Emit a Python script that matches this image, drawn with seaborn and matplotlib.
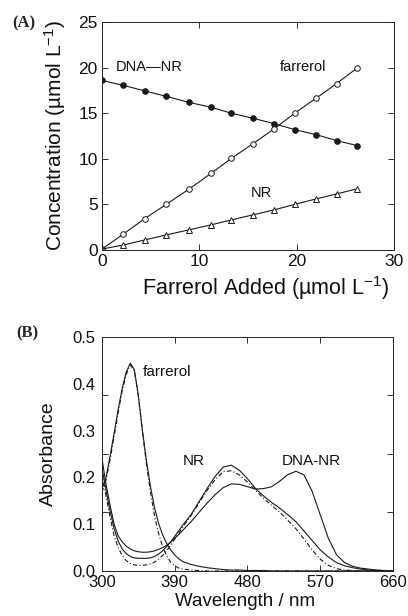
import matplotlib
matplotlib.use("Agg")
import matplotlib.pyplot as plt
import seaborn as sns
import numpy as np

# ---------------- Data: panel A ----------------
farrerol_added = [0, 2.2, 4.4, 6.6, 8.9, 11.2, 13.3, 15.5, 17.7, 19.8, 22.0, 24.1, 26.2]
dna_nr_conc = [18.6, 18.05, 17.45, 16.85, 16.2, 15.65, 15.0, 14.45, 13.85, 13.2, 12.65, 12.0, 11.45]
farrerol_conc = [0.1, 1.75, 3.45, 5.0, 6.65, 8.4, 10.05, 11.65, 13.3, 15.0, 16.65, 18.25, 19.95]
nr_conc = [0.1, 0.55, 1.1, 1.65, 2.2, 2.75, 3.3, 3.85, 4.4, 5.0, 5.6, 6.15, 6.7]

# ---------------- Data: panel B ----------------
wavelength = [300, 305, 310, 315, 320, 325, 330, 335, 340, 345, 350, 355, 360, 365, 370,
              375, 380, 385, 390, 395, 400,
              410, 420, 430, 440, 450, 460, 470, 480, 490, 500, 510, 520, 530, 540, 550,
              560, 570, 580, 590, 600, 610, 620, 630, 640, 650, 660]
farrerol_abs = [0.175, 0.200, 0.245, 0.295, 0.345, 0.390, 0.425, 0.444, 0.430, 0.375, 0.300,
                0.235, 0.180, 0.135, 0.102, 0.077, 0.059, 0.045, 0.034, 0.026, 0.020,
                0.014, 0.010, 0.007, 0.005, 0.003, 0.002, 0.002, 0.001, 0.001, 0.001,
                0, 0, 0, 0, 0, 0, 0, 0, 0, 0, 0, 0, 0, 0, 0, 0]
farrerol_abs2 = [0.168, 0.195, 0.238, 0.288, 0.338, 0.385, 0.420, 0.440, 0.428, 0.372, 0.298,
                 0.228, 0.168, 0.118, 0.080, 0.052, 0.032, 0.019, 0.011, 0.006, 0.004,
                 0.002, 0.001, 0, 0, 0, 0, 0, 0, 0, 0, 0, 0, 0, 0, 0, 0, 0, 0, 0, 0, 0,
                 0, 0, 0, 0, 0]
dna_nr_abs = [0.240, 0.185, 0.140, 0.100, 0.075, 0.062, 0.053, 0.047, 0.043, 0.041, 0.040,
              0.040, 0.041, 0.043, 0.046, 0.050, 0.055, 0.062, 0.070, 0.078, 0.087,
              0.105, 0.125, 0.145, 0.163, 0.178, 0.186, 0.185, 0.180, 0.175, 0.176, 0.180,
              0.192, 0.206, 0.213, 0.205, 0.170, 0.120, 0.070, 0.035, 0.018, 0.010, 0.006,
              0.004, 0.002, 0.001, 0.000]
nr_abs = [0.220, 0.172, 0.128, 0.090, 0.064, 0.047, 0.037, 0.031, 0.028, 0.027, 0.027,
          0.027, 0.028, 0.031, 0.036, 0.043, 0.052, 0.062, 0.074, 0.086, 0.098,
          0.120, 0.148, 0.176, 0.202, 0.222, 0.226, 0.215, 0.197, 0.176, 0.160, 0.146,
          0.134, 0.120, 0.105, 0.085, 0.065, 0.045, 0.030, 0.018, 0.011, 0.007, 0.004,
          0.002, 0.001, 0.000, 0.000]
nr_abs2 = [0.210, 0.160, 0.115, 0.075, 0.050, 0.033, 0.022, 0.016, 0.013, 0.012, 0.012,
           0.013, 0.015, 0.019, 0.025, 0.033, 0.043, 0.055, 0.068, 0.081, 0.094,
           0.118, 0.145, 0.172, 0.195, 0.212, 0.214, 0.205, 0.190, 0.172, 0.155, 0.140,
           0.125, 0.108, 0.090, 0.068, 0.045, 0.025, 0.012, 0.005, 0.002, 0.001, 0,
           0, 0, 0, 0]

xticks_A = [0, 10, 20, 30]
yticks_A = [0, 5, 10, 15, 20, 25]
xticks_B = [300, 390, 480, 570, 660]
yticks_B = [0.0, 0.1, 0.2, 0.3, 0.4, 0.5]
ytickmarks_B = [0.125, 0.25, 0.375]

sns.set_theme(style="ticks")
plt.rcParams['font.family'] = ['Liberation Sans', 'DejaVu Sans']
plt.rcParams['mathtext.fontset'] = 'custom'
plt.rcParams['mathtext.rm'] = 'Liberation Sans'
plt.rcParams['mathtext.it'] = 'Liberation Sans:italic'
plt.rcParams['axes.linewidth'] = 0.7
plt.rcParams['axes.edgecolor'] = '#222222'

fig = plt.figure(figsize=(4.08, 6.16), dpi=100)
axA = fig.add_axes([0.25, 0.5942, 0.7157, 0.370])
axB = fig.add_axes([0.25, 0.0731, 0.7132, 0.380])

lc = '#1a1a1a'
tc = '#111111'
# ---- Panel A ----
sns.lineplot(x=farrerol_added, y=dna_nr_conc, ax=axA, color=lc, lw=0.8, marker='o',
             markersize=4, markerfacecolor=lc, markeredgecolor=lc)
sns.lineplot(x=farrerol_added, y=farrerol_conc, ax=axA, color=lc, lw=0.8, marker='o',
             markersize=4, markerfacecolor='white', markeredgecolor=lc, markeredgewidth=0.7)
sns.lineplot(x=farrerol_added, y=nr_conc, ax=axA, color=lc, lw=0.8, marker='^',
             markersize=4.5, markerfacecolor='white', markeredgecolor=lc, markeredgewidth=0.7)
axA.set_xlim(0, 30)
axA.set_ylim(0, 25)
axA.set_xticks(xticks_A)
axA.set_yticks(yticks_A)
axA.tick_params(direction='in', top=True, right=True, length=4, width=0.6,
                labelsize=12.5, pad=3, colors=tc)
axA.set_xlabel('Farrerol Added (µmol L$^{-1}$)', fontsize=15.5, color=tc)
axA.set_ylabel('Concentration (µmol L$^{-1}$)', fontsize=15, color=tc)
axA.xaxis.set_label_coords(0.56, -0.105)
axA.yaxis.set_label_coords(-0.115, 0.5)
axA.text(1.4, 20.1, 'DNA—NR', fontsize=10.5, va='center', ha='left', color=tc)
axA.text(20.7, 20.1, 'farrerol', fontsize=10.5, va='center', ha='center', color=tc)
axA.text(16.4, 6.3, 'NR', fontsize=10.5, va='center', ha='center', color=tc)
fig.text(12 / 408, 1 - 23 / 616, '(A)', fontsize=12, fontweight='bold',
         family='Liberation Serif', va='center', ha='left')

# ---- Panel B ----
dashdot = (0, (4, 2, 1, 2))
sns.lineplot(x=wavelength, y=farrerol_abs, ax=axB, color=lc, lw=0.8)
sns.lineplot(x=wavelength, y=farrerol_abs2, ax=axB, color=lc, lw=0.8, linestyle=dashdot)
sns.lineplot(x=wavelength, y=dna_nr_abs, ax=axB, color=lc, lw=0.8)
sns.lineplot(x=wavelength, y=nr_abs, ax=axB, color=lc, lw=0.8)
sns.lineplot(x=wavelength, y=nr_abs2, ax=axB, color=lc, lw=0.8, linestyle=dashdot)
axB.set_xlim(300, 660)
axB.set_ylim(0, 0.5)
axB.set_xticks(xticks_B)
axB.set_yticks(yticks_B)
axB.set_yticklabels([f'{v:.1f}' for v in yticks_B])
axB.set_yticks(ytickmarks_B, minor=True)
axB.tick_params(axis='x', direction='in', top=True, length=4, width=0.6,
                labelsize=12, pad=3, colors=tc)
axB.tick_params(axis='y', which='major', direction='in', left=True, right=True, length=0,
                labelsize=12, pad=5, colors=tc)
axB.tick_params(axis='y', which='minor', direction='in', left=True, right=True, length=4,
                width=0.6, colors=tc)
axB.set_xlabel('Wavelength / nm', fontsize=13.5, color=tc)
axB.set_ylabel('Absorbance', fontsize=14, color=tc)
axB.xaxis.set_label_coords(0.49, -0.095)
axB.yaxis.set_label_coords(-0.155, 0.5)
axB.text(351, 0.424, 'farrerol', fontsize=11, va='center', ha='left', color=tc)
axB.text(413, 0.234, 'NR', fontsize=11, va='center', ha='center', color=tc)
axB.text(559, 0.234, 'DNA-NR', fontsize=11, va='center', ha='center', color=tc)
fig.text(16 / 408, 1 - 333 / 616, '(B)', fontsize=12, fontweight='bold',
         family='Liberation Serif', va='center', ha='left')

fig.savefig('out.png', dpi=100)
